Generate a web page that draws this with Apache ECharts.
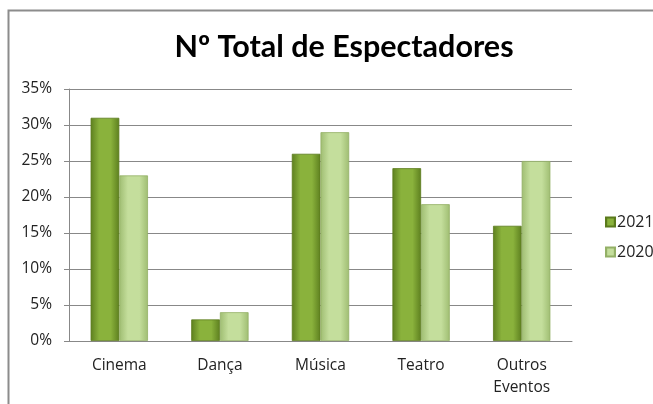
<!DOCTYPE html>
<html>
<head>
<meta charset="utf-8">
<script src="https://cdn.jsdelivr.net/npm/echarts@6/dist/echarts.min.js"></script>
<style>
  html, body { margin: 0; padding: 0; background: #fff; }
  #chart { width: 653px; height: 404px; }
</style>
</head>
<body>
<div id="chart"></div>
<script>
// ----------資料----------
const categories = ['Cinema', 'Dança', 'Música', 'Teatro', 'Outros\nEventos'];
const values2021 = [31, 3, 26, 24, 16];
const values2020 = [23, 4, 29, 19, 25];
// ------------------------

const chart = echarts.init(document.getElementById('chart'));

// 長條漸層 (模擬斜面效果)
const barGradient = (edge, mid) =>
  new echarts.graphic.LinearGradient(0, 0, 1, 0, [
    { offset: 0, color: edge },
    { offset: 0.3, color: mid },
    { offset: 0.7, color: mid },
    { offset: 1, color: edge },
  ]);

const labelFont = '"Open Sans", sans-serif';

const option = {
  animation: false,
  backgroundColor: '#ffffff',
  textStyle: { fontFamily: labelFont },
  graphic: [
    {
      type: 'rect',
      shape: { x: 8.5, y: 10.5, width: 700, height: 500 },
      style: { fill: 'none', stroke: '#8c8c8c', lineWidth: 2 },
      silent: true,
      z: 0,
    },
  ],
  title: {
    text: 'Nº Total de Espectadores',
    left: 339,
    textAlign: 'center',
    top: 27,
    textStyle: {
      fontSize: 30.5,
      fontWeight: 'bold',
      color: '#000',
      fontFamily: 'Lato, "Open Sans", sans-serif',
    },
  },
  legend: {
    orient: 'vertical',
    left: 600,
    top: 209,
    itemGap: 14,
    itemWidth: 9,
    itemHeight: 9,
    icon: 'rect',
    textStyle: { fontSize: 16, color: '#222', padding: [0, 0, 0, -3], fontFamily: labelFont },
    data: ['2021', '2020'],
  },
  grid: { left: 69, right: 81, top: 89, bottom: 63, containLabel: false },
  xAxis: {
    type: 'category',
    data: categories,
    axisLine: { lineStyle: { color: '#888', width: 1 } },
    axisTick: { show: false },
    axisLabel: { fontSize: 15.5, color: '#222', margin: 14, lineHeight: 22, fontFamily: labelFont },
  },
  yAxis: {
    type: 'value',
    min: 0,
    max: 35,
    interval: 5,
    axisLine: { show: true, lineStyle: { color: '#888', width: 1 } },
    axisTick: { show: true, length: 5, lineStyle: { color: '#888' } },
    axisLabel: { fontSize: 15.5, color: '#222', margin: 17, formatter: '{value}%', fontFamily: labelFont },
    splitLine: { lineStyle: { color: '#888', width: 1 } },
  },
  series: [
    {
      name: '2021',
      type: 'bar',
      data: values2021,
      barGap: '0%',
      barCategoryGap: '43%',
      itemStyle: {
        color: barGradient('#5d7f1f', '#8ab23c'),
        borderColor: '#5a7a1c',
        borderWidth: 0.8,
      },
    },
    {
      name: '2020',
      type: 'bar',
      data: values2020,
      itemStyle: {
        color: barGradient('#9fbd72', '#c4de9c'),
        borderColor: '#93b066',
        borderWidth: 0.8,
      },
    },
  ],
};

chart.setOption(option);
</script>
</body>
</html>
